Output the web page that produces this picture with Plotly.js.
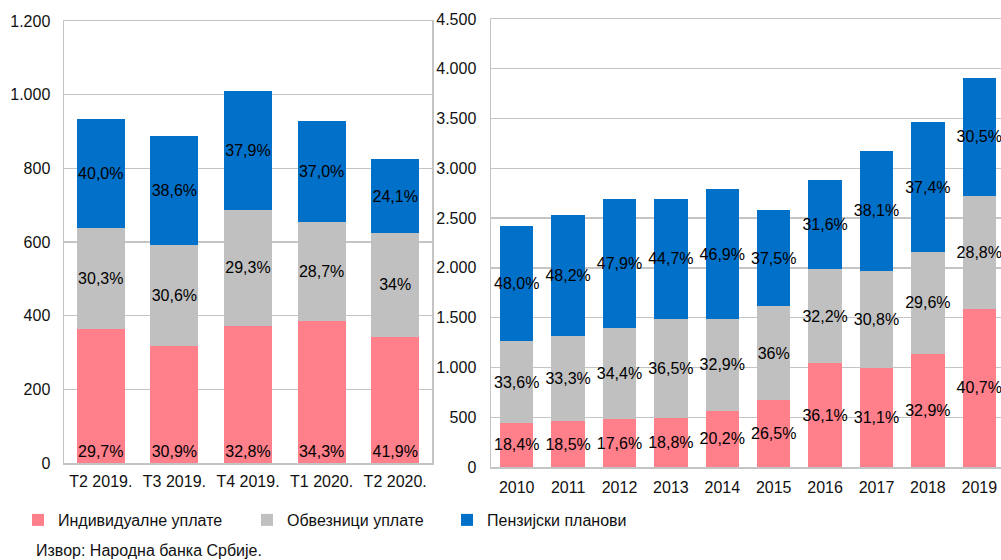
<!DOCTYPE html>
<html><head><meta charset="utf-8">
<script src="https://cdn.plot.ly/plotly-3.0.1.min.js"></script>
<style>html,body{margin:0;padding:0;overflow:hidden;background:#fff}</style>
</head><body><div id="chart" style="width:1006px;height:560px"></div>
<script>
// Left panel: quarterly
const quarters = ['Т2 2019.', 'Т3 2019.', 'Т4 2019.', 'Т1 2020.', 'Т2 2020.'];
const qIndividual = [363, 318, 372, 386, 343];
const qEmployer = [276, 274, 315, 268, 281];
const qPlans = [296, 295, 324, 275, 200];
const qIndividualLbl = ['29,7%', '30,9%', '32,8%', '34,3%', '41,9%'];
const qEmployerLbl = ['30,3%', '30,6%', '29,3%', '28,7%', '34%'];
const qPlansLbl = ['40,0%', '38,6%', '37,9%', '37,0%', '24,1%'];

// Right panel: yearly
const years = ['2010', '2011', '2012', '2013', '2014', '2015', '2016', '2017', '2018', '2019'];
const yIndividual = [443, 460, 480, 497, 567, 674, 1043, 996, 1137, 1589];
const yEmployer = [818, 852, 918, 992, 919, 939, 942, 972, 1023, 1134];
const yPlans = [1160, 1217, 1292, 1201, 1307, 969, 896, 1210, 1304, 1184];
const yIndividualLbl = ['18,4%', '18,5%', '17,6%', '18,8%', '20,2%', '26,5%', '36,1%', '31,1%', '32,9%', '40,7%'];
const yEmployerLbl = ['33,6%', '33,3%', '34,4%', '36,5%', '32,9%', '36%', '32,2%', '30,8%', '29,6%', '28,8%'];
const yPlansLbl = ['48,0%', '48,2%', '47,9%', '44,7%', '46,9%', '37,5%', '31,6%', '38,1%', '37,4%', '30,5%'];

const seriesNames = ['Индивидуалне уплате', 'Обвезници уплате', 'Пензијски планови'];
const colors = ['#FF7F8B', '#C0C0C0', '#0070C9'];

const FONT = 'Liberation Sans, Arial, sans-serif';
const lblFont = {family: FONT, size: 16, color: '#000'};

function bar(x, y, text, i, xa, ya, anchor, legendName, show) {
  return {
    type: 'bar', x: x, y: y, text: text, name: seriesNames[i],
    xaxis: xa, yaxis: ya,
    marker: {color: colors[i], line: {width: 0}},
    textposition: 'inside', insidetextanchor: anchor, textangle: 0,
    constraintext: 'none', textfont: lblFont, cliponaxis: false,
    hoverinfo: 'skip', showlegend: show, legend: legendName
  };
}

const data = [
  bar(quarters, qIndividual, qIndividualLbl, 0, 'x', 'y', 'start', 'legend', true),
  bar(quarters, qEmployer, qEmployerLbl, 1, 'x', 'y', 'middle', 'legend2', true),
  bar(quarters, qPlans, qPlansLbl, 2, 'x', 'y', 'middle', 'legend3', true),
  bar(years, yIndividual, yIndividualLbl, 0, 'x2', 'y2', 'middle', 'legend', false),
  bar(years, yEmployer, yEmployerLbl, 1, 'x2', 'y2', 'middle', 'legend2', false),
  bar(years, yPlans, yPlansLbl, 2, 'x2', 'y2', 'middle', 'legend3', false)
];

const W = 1006, L = 64, R = 1, T = 19, B = 93;
const PW = W - L - R, PH = 560 - T - B;
const px = v => (v - L) / PW;
const py = v => (560 - B - v) / PH;

const gridC = '#C4C4C4';
const tickFont = {family: FONT, size: 16, color: '#111'};
const xCommon = {type: 'category', showgrid: false, showline: true, linecolor: gridC, linewidth: 1.5,
  mirror: true, ticks: '', tickfont: tickFont, fixedrange: true};
const yCommon = {showgrid: true, gridcolor: gridC, gridwidth: 1.3, showline: true, linecolor: gridC,
  linewidth: 1.5, mirror: true, ticks: '', tickfont: tickFont, separatethousands: true,
  zeroline: false, fixedrange: true, ticklabelstandoff: 9};

const legendBase = {orientation: 'h', yanchor: 'middle', xanchor: 'left', y: py(520),
  font: {family: FONT, size: 16, color: '#111'}, bgcolor: 'rgba(0,0,0,0)', itemclick: false, itemdoubleclick: false};

const layout = {
  width: W, height: 560,
  margin: {l: L, r: R, t: T, b: B, pad: 0},
  paper_bgcolor: '#fff', plot_bgcolor: '#fff',
  barmode: 'stack', bargap: 0.35,
  separators: ',.',
  font: {family: FONT},
  xaxis: Object.assign({}, xCommon, {domain: [0, px(432)], anchor: 'y', ticklabelstandoff: 3}),
  yaxis: Object.assign({}, yCommon, {domain: [py(463), py(21)], range: [0, 1200], dtick: 200, anchor: 'x'}),
  xaxis2: Object.assign({}, xCommon, {domain: [px(491), 1], anchor: 'y2', ticklabelstandoff: 5}),
  yaxis2: Object.assign({}, yCommon, {domain: [py(467), py(19)], range: [0, 4500], dtick: 500, anchor: 'x2', ticklabelstandoff: 10}),
  legend: Object.assign({}, legendBase, {x: px(18)}),
  legend2: Object.assign({}, legendBase, {x: px(247)}),
  legend3: Object.assign({}, legendBase, {x: px(447)}),
  annotations: [{
    text: 'Извор: Народна банка Србије.', xref: 'paper', yref: 'paper',
    x: px(34), y: py(550), xanchor: 'left', yanchor: 'middle', showarrow: false,
    font: {family: FONT, size: 16, color: '#111'}
  }]
};

Plotly.newPlot('chart', data, layout, {staticPlot: true, displayModeBar: false});
</script>
</body></html>
